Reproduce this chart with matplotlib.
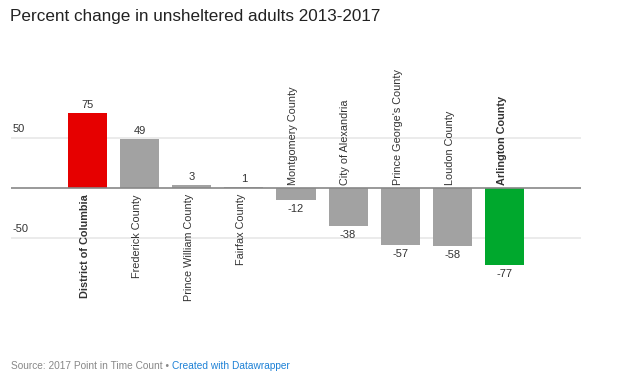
import matplotlib
matplotlib.use("Agg")
import matplotlib.pyplot as plt

categories = ["District of Columbia", "Frederick County", "Prince William County",
              "Fairfax County", "Montgomery County", "City of Alexandria",
              "Prince George's County", "Loudon County", "Arlington County"]
values = [75, 49, 3, 1, -12, -38, -57, -58, -77]
highlight = {"District of Columbia": "#e60000", "Arlington County": "#00a82d"}
yticks = [50, -50]

plt.rcParams['font.family'] = ['Liberation Sans', 'DejaVu Sans']

W, H = 625, 379
fig = plt.figure(figsize=(W / 100, H / 100), dpi=100)
ax_left, ax_right = 11, 581
ax_top, ax_bot = 60, 340
ax = fig.add_axes([ax_left / W, (H - ax_bot) / H, (ax_right - ax_left) / W, (ax_bot - ax_top) / H])

zero_px = 188
ax.set_ylim(zero_px - ax_bot, zero_px - ax_top)
ax.set_xlim(-1.47, 9.47)

for t in yticks:
    ax.axhline(t, color="#e8e8e8", lw=1.2, zorder=0)
    ax.text(0.002, t + 9, str(t), transform=ax.get_yaxis_transform(), ha="left", va="center",
            fontsize=8, color="#333333")

xs = list(range(len(categories)))
colors = [highlight.get(c, "#a2a2a2") for c in categories]
ax.bar(xs, values, width=0.75, color=colors, zorder=2)
ax.axhline(0, color="#888888", lw=1.2, zorder=3)

for x, v, c in zip(xs, values, categories):
    weight = "bold" if c in highlight else "normal"
    if v >= 0:
        ax.text(x, v + 8, str(v), ha="center", va="center", fontsize=8, color="#333333")
        ax.text(x - 0.05, -6, c, rotation=90, ha="center", va="top", fontsize=7.8,
                color="#333333", fontweight=weight)
    else:
        ax.text(x, v - 9, str(v), ha="center", va="center", fontsize=8, color="#333333")
        ax.text(x - 0.05, 3, c, rotation=90, ha="center", va="bottom", fontsize=7.8,
                color="#333333", fontweight=weight)

ax.axis("off")

fig.text(10 / W, 1 - 16 / H, "Percent change in unsheltered adults 2013-2017",
         fontsize=12.3, ha="left", va="center", color="#222222")

t1 = fig.text(11 / W, 1 - 366 / H, "Source: 2017 Point in Time Count • ",
              fontsize=7.3, ha="left", va="center", color="#888888")
fig.canvas.draw()
bb = t1.get_window_extent()
fig.text(bb.x1 / W, 1 - 366 / H, "Created with Datawrapper", fontsize=7.3,
         ha="left", va="center", color="#1d81d6")

fig.savefig("out.png", dpi=100)
